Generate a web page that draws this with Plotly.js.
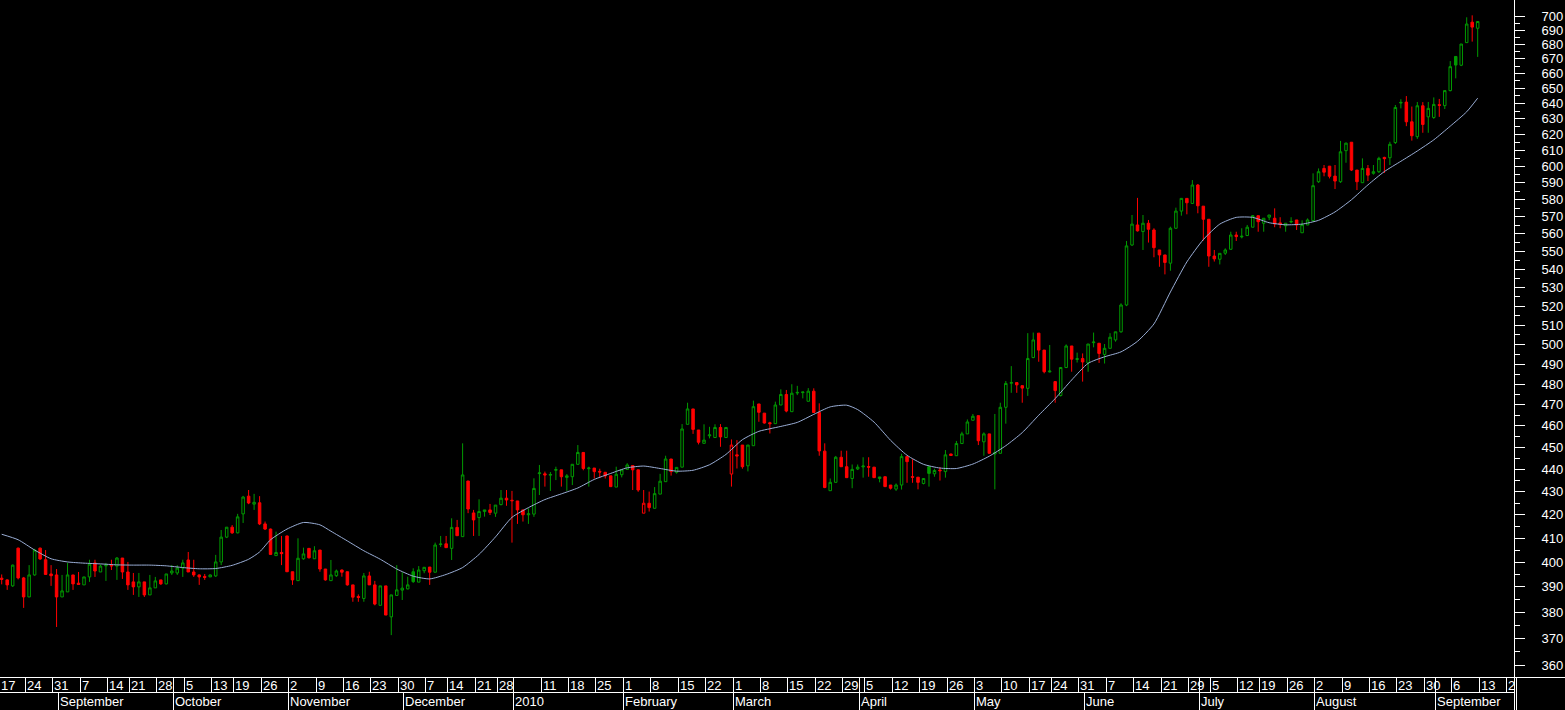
<!DOCTYPE html>
<html>
<head>
<meta charset="utf-8">
<script src="https://cdn.plot.ly/plotly-3.0.1.min.js"></script>
<style>
html,body{margin:0;padding:0;background:#000;overflow:hidden;}
#chart{width:1565px;height:710px;}
</style>
</head>
<body>
<div id="chart"></div>
<script>
// ---------------- DATA ----------------
const firstDay = '2009-08-17';
const lastAxisDay = '2010-09-24';
const holidays = ['2009-09-18','2009-10-12','2009-12-08','2009-12-25','2009-12-31',
  '2010-01-01','2010-04-02','2010-05-21','2010-06-28','2010-07-16'];

const openP = [393.5,392.8,390.4,405.8,393.6,386,394.8,405.8,401,395.2,
394.8,386,388,394.8,391.5,390.8,394,399.7,396,398.5,
398.8,398.4,401.7,396,392,390,392,386.8,389.6,392.8,
391.2,395.6,395.6,397.6,400.9,396,394.8,394.2,394,394.4,
400.1,410.4,414.6,412.2,420.3,428,424.5,425.1,416,413.8,
402.7,404,410.9,396.1,392.5,401.4,405.7,401.4,405,397.2,
392.5,394.5,396.8,396.1,390.8,386.2,385.4,394.4,390.8,382.7,
390.4,378.2,386.6,388.7,389.2,396.1,391.9,396.5,398,395.9,
407.3,407.6,405.7,414.5,410.6,434.7,420.7,418.7,421.3,422,
420.6,424.3,427.1,426.2,425.9,422,419.9,420.2,438,437.9,
437.3,439.5,439.7,436.3,436.6,442.2,447.6,440.2,440.5,439,
438.6,437,432,437.5,439.9,441.6,439.7,420.6,424.9,422.7,
428.9,434.4,444.6,438.6,440.9,460.7,468,458,451.8,455.3,
454.5,459.2,454.5,437.8,446.5,451,441.5,450.7,470.4,466,
461.4,461,469.9,475,466.7,475.7,475.9,471.7,476.6,466.3,
448.2,430.4,434.1,445.4,441.1,435.8,440.1,441.0,441.2,440.9,
435.8,436.6,432.9,431.1,432.9,445.7,436.6,436.4,433.6,441.1,
437.9,439.6,438.9,446.9,446.1,451.7,456.2,462.6,464.8,452.5,
456.2,446.9,447.2,468.8,480.5,480.8,479.3,478,493.3,505.8,
497.1,486.1,481.3,474.5,488.3,499.2,492.4,492.8,490.6,500.9,
500.6,494.9,498,502.3,506.5,520.6,553.6,565.1,561.3,566.1,
562.2,550.8,548,543.4,563.2,573.2,580.7,577.7,588.7,576.1,
568.4,547.4,545.6,549,551.2,559.3,558.2,559,563.8,570.5,
566.1,569.6,569,566.3,564.6,566.8,568,560.6,565.1,567.6,
590.7,598.8,600.2,594.1,590.7,609.8,615.1,597.8,590.1,598.8,
595.8,596.8,605.6,605.4,614.9,640.3,640.9,628.1,618.6,638.5,
631.3,630.9,639.2,638.6,648.5,671.6,665.6,681.2,695.6,691.3];

const highP = [395,393,399,406,394,398.8,405.5,406,405,398.8,
397.2,394.8,399.7,394.8,396,394,401,401,399,399.7,
401,402.1,401.7,400.1,395.6,395.6,392,394.8,394,392.8,
395.2,398.8,398.8,401,404.2,401,395,395.2,395,403,
413.4,414.6,415.5,420.3,428.1,430.7,429,428,417,414,
412.7,410.9,411,396.1,409.9,406,405.7,406.6,405,397.2,
400.9,397,397,396.1,390.8,387,395.6,396.1,392.4,390.4,
390.4,386.8,398.8,395.9,394.1,397.5,398.4,398,398,408.1,
410.9,410.9,418.4,417.7,451.8,434.7,422,426.6,422,424.6,
424.1,430.7,430.7,430.3,425.9,422,422.7,435.9,441.9,438.9,
438.7,441.1,439.7,437.8,442.2,451,447.6,441.1,440.5,440.2,
438.6,437,441.1,439.7,442.7,441.6,439.7,430.7,430,432,
437.9,446.1,444.6,440.8,460.8,471,468,458,460.7,459.5,
460.7,460.8,459.2,453.6,453.3,451,451,472,470.4,466,
461.9,471.5,477.5,477.2,480,479.2,476.2,478.1,478,470.7,
451.8,435.8,446,448.4,448.4,442.1,442.1,445.4,445.4,441,
436.5,436.6,432.9,433.6,447,445.7,444.5,436.4,435.8,441.1,
440.2,440.9,448.7,447,452.9,457.2,463,465.6,464.8,456.9,
456.2,465.6,471,481.6,489,480.8,479.3,505.8,506.1,505.8,
497.1,499.7,481.3,488.3,500,499.2,495.8,495.4,500.2,506.1,
500.6,500.2,505.8,506.5,521.5,555.9,570.9,581,570.9,568,
563.2,550.8,548,564.1,575.2,580.7,580.7,591.7,589.3,576.1,
568.4,550.8,548.9,551.7,561.2,561.2,563.2,565.1,570.9,570.5,
569,570.9,574.8,569.6,566.1,569.6,568,567.8,568.9,595.8,
598.8,600.9,600.2,600.9,615.9,614.9,615.1,597.8,605,600.9,
600.9,606,606,615.4,639,642.8,644.9,638,641,640.9,
641,644,643,648.5,668.4,671.6,680.2,699.1,700.5,696.1];

const lowP = [391,388.8,390,393,381.7,386,394.5,401,395,390.4,
374.3,386,388,388.8,391,390.8,392,394,396,392.4,
396.8,392.8,393.2,388.8,386.8,386,386,386.8,389.6,390.8,
391,394.8,394.8,394,396,394,390.8,392.8,394,394,
398.8,410,411.8,412,416.4,424.5,422,415.5,413.4,403,
402.7,398.8,396,390.8,392.5,401,401.5,401.4,396.1,392.5,
392.5,394,394.1,390.5,384.1,384.1,384.1,390.8,382.7,382.7,
378.9,371.2,386.5,384.8,389,391.6,391.9,395.5,390.8,395.9,
406.3,406,400.9,411,410.6,420.6,410.9,410.9,419.1,419.8,
419,424,423.8,408.1,416,417,416,419,428.5,432.2,
430.3,435.1,432.2,430.3,432.9,442,439.5,432.2,435.8,436,
435.8,432,432,436.3,439.9,430.7,429.9,420.6,421.3,422.7,
428.9,434.4,437.1,438,440.9,460.7,456.2,451.3,451.8,454.1,
454.5,450.2,454.5,432.2,440.3,440.2,439,450.7,461.9,461,
456.4,461,469.9,466.4,466.7,474.7,473.1,471.7,466.3,446.1,
431.5,430.4,434.1,441,436,431.5,439.6,436.2,436.6,436,
434.1,432,430.9,430.3,430.9,433.9,433.9,431,433.2,432.2,
436.6,434.9,436.2,446,446,451.7,456.2,462.6,451,446.1,
447,431,447.2,461,475.8,475.8,471,474.3,493,491.2,
485.4,485.8,471,474,488,486.2,490.8,481.3,486.2,498.5,
490.6,490.3,498,501.4,506,520,553.1,561.3,550.8,555,
546.7,541.4,537.2,539.2,563,570.5,571.3,577.7,571.9,556.1,
541.4,544.3,542.7,548,551,555.9,557.4,559,563.8,561.2,
561.2,567.9,563.8,563.2,561.2,566.1,562.2,560.6,565,567,
590,594,592.7,586.3,590,602.3,597.2,585.7,590,591.1,
595,596,596,600.9,614,636.8,625.3,616.1,617.2,621.1,
621.1,630,631.3,636.4,648,656.7,665,681,681.9,671.3];

const closeP = [393,390.8,398.8,393.6,386,394.8,405,401.3,395,394.5,
386,388.4,394.8,391.2,391,394,399.2,396.4,398.4,398.8,
398.5,401.7,396,390.8,390,392,386.8,389.6,392.4,391.2,
395.2,396.4,397.6,399.7,396,394.8,394,393.8,394.8,400.1,
410.4,414.6,412.2,419,427.6,425,425.3,416,413.8,403.2,
404,403.5,396.1,392.8,401.6,403.4,401.8,404.7,397.2,392.8,
394.8,396.4,395.9,390.8,385.9,385.8,394.4,390.8,383.2,390.4,
378.9,386.8,388.8,389.5,390.8,392.1,396.8,397.9,395.9,407.1,
407.5,406,414.5,411,437.4,422.4,417.7,421.3,422,420.9,
424.1,427.1,426.3,426,422,419.9,420.3,431.4,438.3,437.4,
437.6,439.8,436.6,437,442.2,447.6,440.3,440.5,438.9,438.7,
437,432.2,437.7,439.7,441.9,439.7,430.7,424.9,423,429.1,
434.6,444.6,438.9,440.8,458.5,468,458.3,452.3,453.3,455.7,
459.2,454.8,459.2,451,446,441.1,451,469.1,466.4,461.3,
461.0,469.9,475,467,475.6,476,476.2,476.6,466.3,448.3,
431.8,434.1,445.4,441.1,436.2,439.9,440.9,441.4,440.9,436.2,
436.5,432.2,431.5,432.9,445.7,443.4,436.4,434.1,435.8,438.1,
439.4,439.3,446.5,446.2,451.7,456.2,461.8,464.5,453,456.2,
447.2,447.5,468.8,480.4,480.8,479.7,478.1,492.8,502.3,497.1,
486.2,486.5,476.9,488.3,499.2,492.5,492.7,491.1,500.2,501.2,
495.4,498,503.7,506.5,520.6,553.1,565.6,561.7,566.1,562.6,
552.1,548,543.8,563.2,573.2,580.7,578.1,588.7,576.3,568.4,
547.4,545.8,548.9,550.8,559.3,558.4,558.6,563.8,570.5,567,
569,570.9,565.7,565.5,566.1,567.1,565.1,565.3,568,588.3,
596.8,596.5,594,591.1,609.1,614.5,597.8,590.7,598.8,594.7,
596.8,605,604.8,613.8,637.4,640.7,628.1,619.2,638.5,626.4,
636.8,639.4,638.8,648.5,664.6,665.7,680.2,694.3,692.1,696.1];

// moving average at trading-day positions
const maDay = [0,3,6,9,12,15,18,21,24,27,30,33,36,39,42,45,47,49,52,55,58,60,63,66,69,72,75,78,81,84,87,90,93,96,99,102,105,108,111,114,117,120,123,126,129,132,135,138,140,142,145,148,151,154,156,159,162,165,168,171,174,177,180,183,186,189,192,195,198,201,204,207,210,213,216,219,222,225,228,231,234,237,240,243,246,249,252,255,258,261,264,267,269];
const maValue = [411.6,409.3,405.0,401.4,400.1,399.6,399.3,398.9,398.8,398.8,398.5,397.8,397.3,397.4,398.7,401.2,404.2,409.3,413.8,416.6,415.6,412.9,408.8,404.7,401.2,397.2,394.3,393.2,395.0,397.8,403.2,410.5,418.8,423.0,426.5,429.0,431.6,435.4,438.1,440.6,441.4,440.3,439.1,439.5,442.0,446.7,453.5,457.4,458.6,459.7,461.6,465.4,469.0,469.8,467.7,461.7,453.2,446.3,442.2,440.5,440.3,442.3,445.9,450.7,456.8,465.0,473.0,482.1,490.4,493.7,496.2,501.6,510.6,527.6,544.1,556.7,565.6,569.5,569.5,566.4,565.2,565.6,567.8,572.7,579.9,588.8,596.9,603.2,609.6,616.6,625.3,634.6,643.5];

const yTicks = [360,370,380,390,400,410,420,430,440,450,460,470,480,490,500,510,520,530,540,550,560,570,580,590,600,610,620,630,640,650,660,670,680,690,700];
const yMinorTicks = [365,375,385,395,405,415,425,435,445,455,465,475,485,495,505,515,525,535,545,555,565,575,585,595,605,615,625,635,645,655,665,675,685,695];

const weekLabels = ['17','24','31','7','14','21','28','5','13','19','26','2','9','16','23','30','7','14','21','28','','11','18','25','1','8','15','22','1','8','15','22','29','5','12','19','26','3','10','17','24','31','7','14','21','29','5','12','19','26','2','9','16','23','30','6','13','2'];
const monthLabels = ['September','October','November','December','2010','February','March','April','May','June','July','August','September'];

// ---------------- LAYOUT CONSTANTS ----------------
const W = 1565, H = 710, ML = 0, MR = 51, MT = 0, MB = 33;
const plotW = W - ML - MR, plotH = H - MT - MB;
const xRange = [-0.31, 275.62];
const yRange = [Math.log10(355.6), Math.log10(711.6)];
const GREEN = '#009a00', RED = '#ff0000', MA_COLOR = '#9aaed6', WHITE = '#ffffff';
const FONT = 'Liberation Sans, Arial, sans-serif';

// ---------------- TRADING DAYS ----------------
const days = [];
{
  const end = new Date(lastAxisDay + 'T00:00:00Z');
  for (let d = new Date(firstDay + 'T00:00:00Z'); d <= end; d.setUTCDate(d.getUTCDate() + 1)) {
    const wd = d.getUTCDay();
    const iso = d.toISOString().slice(0, 10);
    if (wd === 0 || wd === 6 || holidays.includes(iso)) continue;
    days.push(new Date(d.getTime()));
  }
}
const weekStarts = [], monthStarts = [];
days.forEach((d, i) => {
  if (i === 0) { weekStarts.push(0); return; }
  const p = days[i - 1];
  if (d.getUTCDay() <= p.getUTCDay() || (d - p) >= 7 * 864e5) weekStarts.push(i);
  if (d.getUTCMonth() !== p.getUTCMonth()) monthStarts.push(i);
});

// ---------------- CANDLES split by close vs previous close ----------------
function makeSet(up) {
  const s = {x: [], o: [], h: [], l: [], c: []};
  closeP.forEach((c, i) => {
    const prev = i > 0 ? closeP[i - 1] : openP[i];
    const isUp = c >= prev;
    if (isUp === up) {
      s.x.push(i); s.o.push(openP[i]); s.h.push(highP[i]); s.l.push(lowP[i]); s.c.push(c);
    }
  });
  return s;
}
const gSet = makeSet(true), rSet = makeSet(false);
function candleTrace(s, col) {
  return {
    type: 'candlestick', x: s.x, open: s.o, high: s.h, low: s.l, close: s.c,
    increasing: {line: {color: col, width: 1}, fillcolor: '#000000'},
    decreasing: {line: {color: col, width: 1}, fillcolor: col},
    whiskerwidth: 0, hoverinfo: 'skip', showlegend: false
  };
}
const traces = [
  candleTrace(gSet, GREEN),
  candleTrace(rSet, RED),
  {type: 'scatter', mode: 'lines', x: maDay, y: maValue,
   line: {color: MA_COLOR, width: 1, shape: 'spline', smoothing: 0.6},
   hoverinfo: 'skip', showlegend: false}
];

// ---------------- DATE AXIS (two rows) ----------------
function toPx(v) { return (v - xRange[0]) / (xRange[1] - xRange[0]) * plotW; }
function snapX(v) {
  const p = Math.round(toPx(v)) + 0.5;
  return xRange[0] + p / plotW * (xRange[1] - xRange[0]);
}
const yRow1Top = -0.5 / plotH, yRow1Bot = -15.5 / plotH, yRow2Bot = -33 / plotH;
const row1Y = -8 / plotH, row2Y = -24.5 / plotH;
const shapes = [], annotations = [];
const lineW = {color: WHITE, width: 1};

// horizontal rules
shapes.push({type: 'line', xref: 'paper', yref: 'paper', x0: 0, x1: W / plotW, y0: yRow1Top, y1: yRow1Top, line: lineW});
shapes.push({type: 'line', xref: 'paper', yref: 'paper', x0: 0, x1: 1, y0: yRow1Bot, y1: yRow1Bot, line: lineW});
// right axis line extended through the date rows, and the corner box
shapes.push({type: 'line', xref: 'paper', yref: 'paper', x0: 1 + 0.5 / plotW, x1: 1 + 0.5 / plotW, y0: 1, y1: yRow2Bot, line: lineW});
shapes.push({type: 'line', xref: 'paper', yref: 'paper', x0: 1 + 2.5 / plotW, x1: 1 + 2.5 / plotW, y0: yRow1Top, y1: yRow2Bot, line: lineW});

const labelFont = {family: FONT, size: 13, color: WHITE};
function addLabel(xv, yv, text) {
  if (!text) return;
  const px = toPx(xv);
  if (px < 0) {
    annotations.push({xref: 'paper', yref: 'paper', x: 0, y: yv, xanchor: 'left', yanchor: 'middle',
      text: text, showarrow: false, font: labelFont, borderpad: 0});
  } else {
    annotations.push({xref: 'x', yref: 'paper', x: xv, y: yv, xanchor: 'left', yanchor: 'middle',
      text: text, showarrow: false, font: labelFont, borderpad: 0});
  }
}
weekStarts.forEach((idx, k) => {
  const xv = snapX(idx - 0.8);
  shapes.push({type: 'line', xref: 'x', yref: 'paper', x0: xv, x1: xv, y0: yRow1Top, y1: yRow1Bot, line: lineW});
  addLabel(xv, row1Y, weekLabels[k]);
});
monthStarts.forEach((idx, k) => {
  const xv = snapX(idx - 0.8);
  shapes.push({type: 'line', xref: 'x', yref: 'paper', x0: xv, x1: xv, y0: yRow1Bot, y1: yRow2Bot, line: lineW});
  // month boundary also marked in the day row when it splits a week
  let ws = 0;
  weekStarts.forEach(w => { if (w <= idx) ws = w; });
  if (idx - ws >= 2) shapes.push({type: 'line', xref: 'x', yref: 'paper', x0: xv, x1: xv, y0: yRow1Top, y1: yRow1Bot, line: lineW});
  addLabel(xv, row2Y, monthLabels[k]);
});

const layout = {
  width: W, height: H,
  margin: {l: ML, r: MR, t: MT, b: MB, pad: 0},
  paper_bgcolor: '#000000', plot_bgcolor: '#000000',
  showlegend: false, boxgap: 0.35,
  xaxis: {range: xRange, showgrid: false, zeroline: false, showticklabels: false, ticks: '',
          showline: false, rangeslider: {visible: false}, fixedrange: true},
  yaxis: {type: 'log', range: yRange, side: 'right', showgrid: false, zeroline: false,
          showline: true, linecolor: WHITE, linewidth: 1,
          tickmode: 'array', tickvals: yTicks, ticktext: yTicks.map(String),
          ticks: 'outside', ticklen: 10, tickwidth: 1, tickcolor: WHITE,
          tickfont: {family: FONT, size: 13, color: WHITE}, ticklabelstandoff: 14,
          minor: {tickmode: 'array', tickvals: yMinorTicks, ticks: 'outside', ticklen: 5, tickwidth: 1, tickcolor: WHITE, showgrid: false},
          fixedrange: true},
  shapes: shapes, annotations: annotations
};

Plotly.newPlot('chart', traces, layout, {displayModeBar: false, staticPlot: true});
</script>
</body>
</html>
